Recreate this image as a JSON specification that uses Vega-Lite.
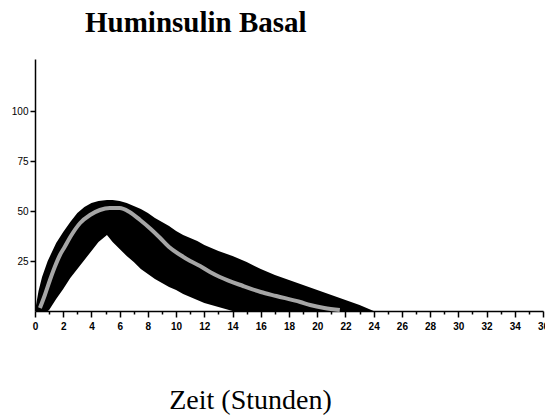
{
  "$schema": "https://vega.github.io/schema/vega-lite/v6.json",
  "width": 508,
  "height": 252,
  "autosize": "none",
  "padding": {"left": 35, "top": 59, "right": 2, "bottom": 104},
  "background": "white",
  "title": {
    "text": "Huminsulin Basal",
    "font": "Liberation Serif",
    "fontSize": 29,
    "fontWeight": "bold",
    "color": "black",
    "anchor": "start",
    "frame": "group",
    "dx": 50,
    "dy": 29,
    "offset": 27,
    "baseline": "alphabetic"
  },
  "datasets": {
    "band": [
      {"t": 0, "hi": 0, "lo": 0},
      {"t": 0.25, "hi": 10, "lo": 0},
      {"t": 0.5, "hi": 17, "lo": 0},
      {"t": 0.75, "hi": 22, "lo": 0},
      {"t": 0.9, "hi": 25, "lo": 0},
      {"t": 1.0, "hi": 26.5, "lo": 0.5},
      {"t": 1.5, "hi": 34, "lo": 6},
      {"t": 2.0, "hi": 39.5, "lo": 11},
      {"t": 2.5, "hi": 44.5, "lo": 16.5},
      {"t": 3.0, "hi": 49, "lo": 21},
      {"t": 3.5, "hi": 52, "lo": 25.5},
      {"t": 4.0, "hi": 54, "lo": 30},
      {"t": 4.5, "hi": 55, "lo": 34.5},
      {"t": 5.1, "hi": 55.5, "lo": 38},
      {"t": 5.5, "hi": 55.5, "lo": 34.5},
      {"t": 6.0, "hi": 55, "lo": 31},
      {"t": 6.5, "hi": 54, "lo": 27.5},
      {"t": 7.0, "hi": 52.5, "lo": 24.5},
      {"t": 7.5, "hi": 51, "lo": 21},
      {"t": 8.0, "hi": 49, "lo": 18.5},
      {"t": 8.5, "hi": 46.5, "lo": 16},
      {"t": 9.0, "hi": 44.5, "lo": 14},
      {"t": 9.5, "hi": 42.5, "lo": 12},
      {"t": 10.0, "hi": 40, "lo": 10.5},
      {"t": 10.5, "hi": 38, "lo": 8.5},
      {"t": 11.0, "hi": 36.5, "lo": 7},
      {"t": 11.5, "hi": 35, "lo": 5.5},
      {"t": 12.0, "hi": 33, "lo": 4},
      {"t": 12.5, "hi": 31.5, "lo": 3},
      {"t": 13.0, "hi": 30, "lo": 2},
      {"t": 13.5, "hi": 28.7, "lo": 1},
      {"t": 14.0, "hi": 27.5, "lo": 0},
      {"t": 15.0, "hi": 24.5, "lo": 0},
      {"t": 16.0, "hi": 21, "lo": 0},
      {"t": 17.0, "hi": 18, "lo": 0},
      {"t": 18.0, "hi": 15.5, "lo": 0},
      {"t": 19.0, "hi": 13, "lo": 0},
      {"t": 20.0, "hi": 10.5, "lo": 0},
      {"t": 21.0, "hi": 8, "lo": 0},
      {"t": 22.0, "hi": 5.5, "lo": 0},
      {"t": 23.0, "hi": 3, "lo": 0},
      {"t": 24.0, "hi": 0, "lo": 0}
    ],
    "mid": [
      {"t": 0.35, "v": 1.5},
      {"t": 0.7, "v": 8},
      {"t": 1.06, "v": 15.5},
      {"t": 1.4, "v": 22},
      {"t": 1.77, "v": 28},
      {"t": 2.1, "v": 32},
      {"t": 2.5, "v": 37},
      {"t": 3.2, "v": 44},
      {"t": 3.9, "v": 48},
      {"t": 4.6, "v": 50.5},
      {"t": 5.3, "v": 51.5},
      {"t": 6.0, "v": 51.5},
      {"t": 6.7, "v": 49.5},
      {"t": 7.45, "v": 45.5},
      {"t": 8.2, "v": 41},
      {"t": 8.87, "v": 36.5},
      {"t": 9.5, "v": 32},
      {"t": 10.3, "v": 28},
      {"t": 11.0, "v": 25},
      {"t": 11.7, "v": 22.5},
      {"t": 12.4, "v": 19.5},
      {"t": 13.1, "v": 17},
      {"t": 14.75, "v": 12.5},
      {"t": 16.0, "v": 9.5},
      {"t": 17.1, "v": 7.5},
      {"t": 18.8, "v": 4.5},
      {"t": 19.5, "v": 3},
      {"t": 20.5, "v": 1.5},
      {"t": 21.6, "v": 0.5}
    ]
  },
  "config": {
    "view": {"stroke": null},
    "axis": {"grid": false, "domainColor": "black", "tickColor": "black", "domainWidth": 1.5, "tickWidth": 1.5, "labelColor": "black", "titleColor": "black"},
    "axisX": {"labelOverlap": false, "labelSeparation": 0}
  },
  "encoding": {
    "x": {
      "field": "t",
      "type": "quantitative",
      "scale": {"domain": [0, 36], "nice": false},
      "axis": {
        "values": [0,1,2,3,4,5,6,7,8,9,10,11,12,13,14,15,16,17,18,19,20,21,22,23,24,25,26,27,28,29,30,31,32,33,34,35,36],
        "labelExpr": "datum.value % 2 === 0 ? datum.label : ''",
        "tickSize": {"condition": {"test": "datum.value % 2 === 0", "value": 6}, "value": 3},
        "labelFont": "Liberation Sans",
        "labelFontSize": 10,
        "labelFontWeight": "bold",
        "labelPadding": 4,
        "labelOverlap": false,
        "labelFlush": false,
        "title": "Zeit (Stunden)",
        "titleFont": "Liberation Serif",
        "titleFontSize": 28,
        "titleFontWeight": "normal",
        "titleX": 215,
        "titleY": 97,
        "titleBaseline": "alphabetic",
        "titleAlign": "center"
      }
    }
  },
  "layer": [
    {
      "data": {"name": "band"},
      "mark": {"type": "area", "color": "black", "interpolate": "linear"},
      "encoding": {
        "y": {
          "field": "hi",
          "type": "quantitative",
          "scale": {"domain": [0, 126], "nice": false},
          "axis": {
            "values": [25, 50, 75, 100],
            "tickSize": 5,
            "labelFont": "Liberation Sans",
            "labelFontSize": 10,
            "labelPadding": 2,
            "title": null
          }
        },
        "y2": {"field": "lo"}
      }
    },
    {
      "data": {"name": "mid"},
      "mark": {"type": "line", "color": "#a6a6a6", "strokeWidth": 4, "interpolate": "monotone"},
      "encoding": {
        "y": {"field": "v", "type": "quantitative"}
      }
    }
  ]
}
